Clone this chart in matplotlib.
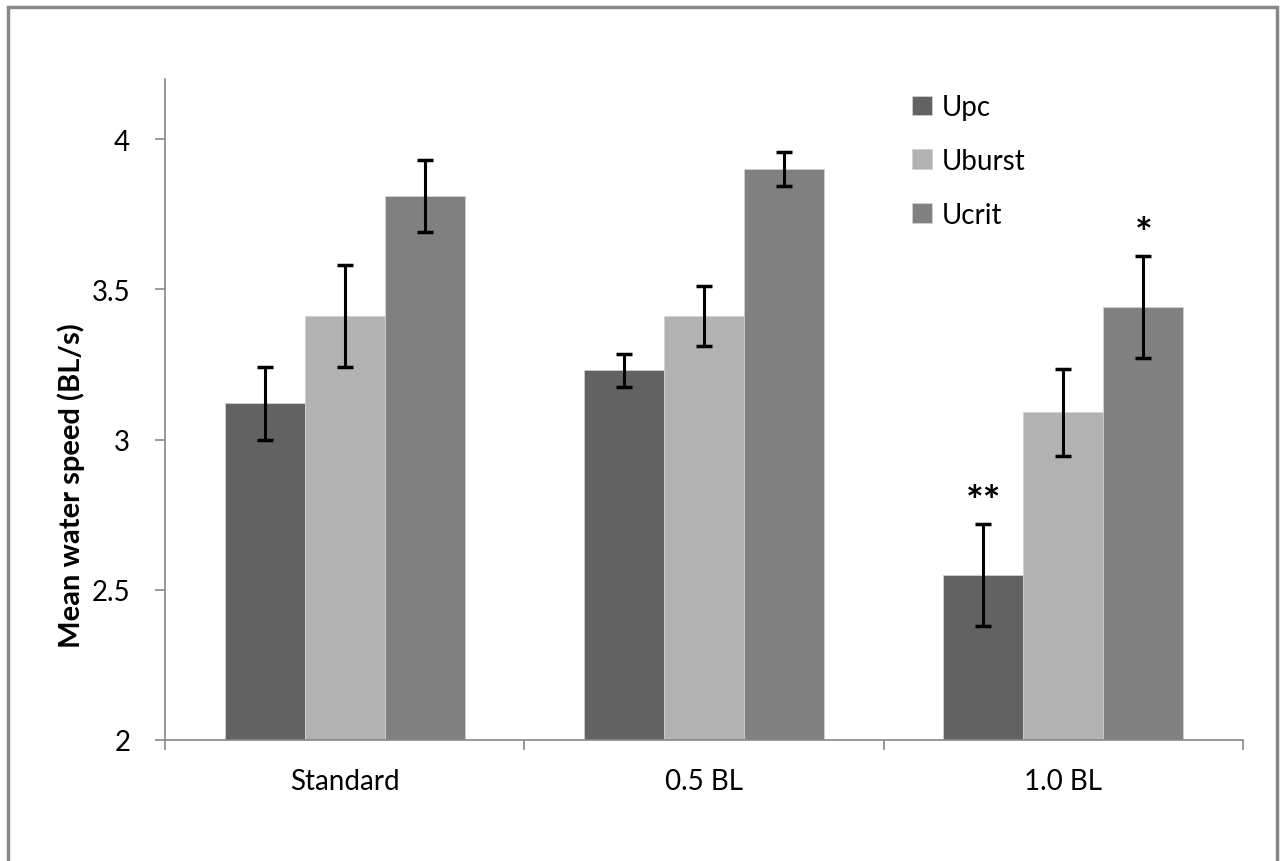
import matplotlib.pyplot as plt
import numpy as np
from matplotlib.patches import Rectangle

plt.rcParams['font.family'] = ['Lato', 'DejaVu Sans']

groups = ['Standard', '0.5 BL', '1.0 BL']
series = ['Upc', 'Uburst', 'Ucrit']
colors = ['#626262', '#b2b2b2', '#808080']

upc = [3.12, 3.23, 2.55]
uburst = [3.41, 3.41, 3.09]
ucrit = [3.81, 3.90, 3.44]
upc_err = [0.12, 0.055, 0.17]
uburst_err = [0.17, 0.10, 0.145]
ucrit_err = [0.12, 0.057, 0.17]

# significance marks: (group index, series index, label)
marks = [(2, 0, '**'), (2, 2, '*')]

values = [upc, uburst, ucrit]
errors = [upc_err, uburst_err, ucrit_err]

fig = plt.figure(figsize=(12.85, 8.62), dpi=100)
ax = fig.add_axes([0.1284, 0.1404, 0.8389, 0.7668])

x = np.arange(len(groups))
w = 0.2226
for i, name in enumerate(series):
    ax.bar(x + (i - 1) * w, values[i], w, color=colors[i], label=name,
           yerr=errors[i], error_kw=dict(ecolor='black', elinewidth=2.2,
                                         capsize=6, capthick=2.5),
           edgecolor='#d0d0d0', linewidth=0.6, zorder=2)

for g, s, txt in marks:
    ax.text(x[g] + (s - 1) * w, values[s][g] + errors[s][g] + 0.03, txt,
            ha='center', va='baseline', fontsize=30, fontweight='bold')

ax.set_ylim(2, 4.2)
ax.set_xlim(-0.5, 2.5)
ax.set_yticks([2, 2.5, 3, 3.5, 4])
ax.set_yticklabels(['2', '2.5', '3', '3.5', '4'])
ax.set_xticks(x)
ax.set_xticklabels(groups)
ax.set_xticks([-0.5, 0.5, 1.5, 2.5], minor=True)
ax.tick_params(axis='x', which='major', length=0, pad=20, labelsize=20)
ax.tick_params(axis='x', which='minor', length=7, width=1.2, color='#888888')
ax.tick_params(axis='y', length=7, width=1.2, color='#888888', pad=18, labelsize=20)

for sp in ['top', 'right']:
    ax.spines[sp].set_visible(False)
for sp in ['left', 'bottom']:
    ax.spines[sp].set_color('#888888')
    ax.spines[sp].set_linewidth(1.2)

ax.set_ylabel('Mean water speed (BL/s)', fontsize=21, fontweight='bold')
ax.yaxis.set_label_coords(-0.074, 0.386)

ax.legend(loc='upper left', bbox_to_anchor=(0.67, 1.015), frameon=False,
          fontsize=20, handlelength=0.7, handleheight=0.7, handletextpad=0.35,
          labelspacing=1.0)

fig.patches.append(Rectangle((8 / 1285, -0.02), 1269 / 1285, 1.02 - 8 / 862,
                             transform=fig.transFigure, fill=False,
                             edgecolor='#888888', linewidth=2.5))

fig.savefig('out.png', dpi=100)
